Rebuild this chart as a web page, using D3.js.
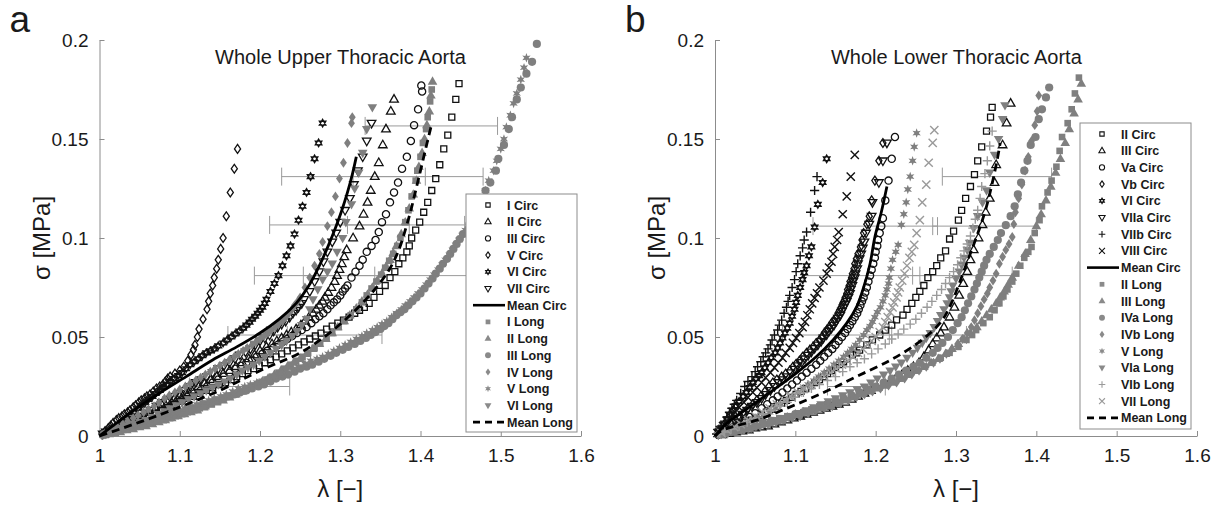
<!DOCTYPE html>
<html><head><meta charset="utf-8">
<script src="https://cdn.jsdelivr.net/npm/d3@7"></script>
<style>
body{margin:0;background:#fff;}
svg{display:block;font-family:"Liberation Sans",Arial,Helvetica,sans-serif;}
</style>
</head><body>
<svg id="chart" width="1222" height="506"></svg>
<script>
// ---------- axis ticks ----------
const lambdaTicks = [1, 1.1, 1.2, 1.3, 1.4, 1.5, 1.6];
const sigmaTicks = [0, 0.05, 0.1, 0.15, 0.2];
const sigmaTickLabels = ["0", "0.05", "0.1", "0.15", "0.2"];

// ---------- (a) whole upper thoracic aorta: [stretch λ, stress σ in MPa] ----------
const upICirc = [[1.006,0.001],[1.013,0.0025],[1.021,0.004],[1.029,0.005],[1.037,0.0065],[1.045,0.0075],[1.053,0.009],[1.061,0.010],[1.069,0.0115],[1.077,0.013],[1.085,0.0145],[1.093,0.016],[1.101,0.0175],[1.109,0.019],[1.117,0.020],[1.125,0.0215],[1.133,0.023],[1.141,0.0245],[1.149,0.026],[1.157,0.027],[1.164,0.0285],[1.171,0.030],[1.178,0.0315],[1.185,0.033],[1.192,0.034],[1.199,0.0355],[1.206,0.037],[1.213,0.0385],[1.22,0.040],[1.227,0.0415],[1.234,0.043],[1.241,0.0445],[1.248,0.046],[1.255,0.0475],[1.262,0.049],[1.269,0.0505],[1.276,0.052],[1.283,0.054],[1.29,0.0555],[1.297,0.057],[1.304,0.0585],[1.311,0.060],[1.318,0.062],[1.324,0.0635],[1.33,0.065],[1.336,0.067],[1.342,0.070],[1.349,0.073],[1.356,0.076],[1.362,0.080],[1.368,0.083],[1.373,0.087],[1.378,0.090],[1.383,0.093],[1.386,0.096],[1.389,0.100],[1.394,0.104],[1.399,0.108],[1.404,0.113],[1.409,0.118],[1.414,0.124],[1.419,0.130],[1.424,0.137],[1.429,0.145],[1.434,0.152],[1.439,0.161],[1.444,0.170],[1.448,0.178]];
const upIICirc = [[1.006,0.001],[1.014,0.0025],[1.022,0.004],[1.03,0.0055],[1.038,0.007],[1.046,0.0085],[1.054,0.010],[1.062,0.012],[1.07,0.014],[1.078,0.0155],[1.085,0.017],[1.093,0.0185],[1.1,0.020],[1.108,0.0215],[1.115,0.023],[1.123,0.025],[1.13,0.027],[1.138,0.0285],[1.146,0.030],[1.154,0.0315],[1.162,0.033],[1.17,0.035],[1.178,0.037],[1.186,0.039],[1.193,0.041],[1.2,0.043],[1.208,0.045],[1.215,0.0465],[1.221,0.048],[1.227,0.0495],[1.233,0.051],[1.239,0.0525],[1.245,0.054],[1.251,0.056],[1.256,0.058],[1.261,0.060],[1.266,0.062],[1.27,0.064],[1.274,0.066],[1.278,0.068],[1.281,0.070],[1.285,0.0725],[1.289,0.075],[1.293,0.078],[1.296,0.081],[1.299,0.084],[1.302,0.087],[1.305,0.0905],[1.308,0.094],[1.316,0.100],[1.324,0.106],[1.329,0.112],[1.334,0.118],[1.338,0.124],[1.343,0.131],[1.348,0.138],[1.353,0.147],[1.357,0.155],[1.363,0.164],[1.367,0.170]];
const upIIICirc = [[1.008,0.001],[1.015,0.002],[1.023,0.003],[1.031,0.004],[1.039,0.0055],[1.047,0.007],[1.055,0.008],[1.063,0.0095],[1.071,0.011],[1.079,0.013],[1.087,0.0145],[1.095,0.016],[1.103,0.018],[1.11,0.020],[1.118,0.0215],[1.126,0.023],[1.134,0.025],[1.141,0.027],[1.148,0.0285],[1.155,0.030],[1.162,0.032],[1.169,0.034],[1.176,0.0355],[1.183,0.037],[1.19,0.0385],[1.196,0.040],[1.203,0.0415],[1.209,0.043],[1.216,0.0445],[1.222,0.046],[1.228,0.0475],[1.234,0.049],[1.24,0.0505],[1.246,0.052],[1.252,0.0535],[1.258,0.055],[1.264,0.057],[1.269,0.059],[1.274,0.0605],[1.279,0.062],[1.284,0.064],[1.288,0.066],[1.292,0.0675],[1.296,0.069],[1.3,0.071],[1.303,0.073],[1.306,0.0745],[1.309,0.076],[1.314,0.080],[1.319,0.083],[1.324,0.086],[1.328,0.089],[1.333,0.093],[1.339,0.096],[1.344,0.099],[1.348,0.103],[1.352,0.108],[1.357,0.112],[1.362,0.118],[1.367,0.123],[1.372,0.128],[1.377,0.135],[1.383,0.141],[1.388,0.149],[1.392,0.157],[1.397,0.165],[1.402,0.174],[1.401,0.177]];
const upVCirc = [[1.003,0.001],[1.007,0.0025],[1.011,0.004],[1.014,0.0053],[1.017,0.0066],[1.021,0.008],[1.024,0.009],[1.028,0.010],[1.031,0.011],[1.035,0.012],[1.038,0.013],[1.042,0.0145],[1.045,0.0155],[1.049,0.017],[1.052,0.018],[1.056,0.019],[1.059,0.020],[1.063,0.021],[1.067,0.0225],[1.071,0.024],[1.075,0.025],[1.079,0.026],[1.082,0.0275],[1.085,0.029],[1.088,0.030],[1.094,0.0315],[1.1,0.033],[1.105,0.035],[1.11,0.038],[1.114,0.041],[1.117,0.0435],[1.119,0.046],[1.122,0.050],[1.124,0.054],[1.129,0.059],[1.134,0.064],[1.136,0.068],[1.138,0.072],[1.141,0.076],[1.143,0.080],[1.146,0.0845],[1.148,0.089],[1.151,0.0945],[1.154,0.100],[1.158,0.111],[1.163,0.123],[1.168,0.135],[1.172,0.145]];
const upVICirc = [[1.005,0.001],[1.009,0.002],[1.014,0.003],[1.019,0.004],[1.024,0.0055],[1.029,0.007],[1.034,0.009],[1.038,0.0105],[1.043,0.012],[1.048,0.014],[1.052,0.0155],[1.057,0.017],[1.061,0.0185],[1.066,0.020],[1.07,0.0215],[1.075,0.023],[1.079,0.0245],[1.084,0.026],[1.088,0.0275],[1.093,0.029],[1.098,0.0305],[1.103,0.032],[1.108,0.034],[1.113,0.036],[1.118,0.0375],[1.123,0.039],[1.128,0.0405],[1.133,0.042],[1.138,0.043],[1.143,0.044],[1.148,0.0455],[1.154,0.047],[1.159,0.0485],[1.164,0.050],[1.169,0.0515],[1.174,0.053],[1.179,0.0545],[1.183,0.056],[1.187,0.0575],[1.19,0.059],[1.194,0.0605],[1.197,0.062],[1.2,0.0635],[1.203,0.065],[1.206,0.067],[1.208,0.069],[1.213,0.073],[1.218,0.077],[1.223,0.081],[1.228,0.086],[1.233,0.091],[1.238,0.096],[1.243,0.102],[1.248,0.109],[1.253,0.116],[1.258,0.123],[1.263,0.131],[1.268,0.140],[1.273,0.148],[1.278,0.158]];
const upVIICirc = [[1.004,0.001],[1.008,0.002],[1.015,0.003],[1.022,0.004],[1.029,0.0055],[1.036,0.007],[1.043,0.0085],[1.05,0.010],[1.057,0.0115],[1.064,0.013],[1.071,0.015],[1.078,0.017],[1.085,0.0185],[1.092,0.020],[1.099,0.0215],[1.106,0.023],[1.113,0.025],[1.12,0.027],[1.127,0.0285],[1.134,0.030],[1.141,0.032],[1.148,0.034],[1.155,0.0355],[1.162,0.037],[1.169,0.039],[1.175,0.041],[1.182,0.0425],[1.188,0.044],[1.194,0.046],[1.2,0.048],[1.206,0.0495],[1.212,0.051],[1.217,0.053],[1.222,0.055],[1.227,0.0565],[1.232,0.058],[1.237,0.060],[1.241,0.062],[1.245,0.0635],[1.248,0.065],[1.252,0.067],[1.255,0.069],[1.262,0.073],[1.268,0.078],[1.274,0.083],[1.279,0.088],[1.284,0.093],[1.29,0.098],[1.295,0.1025],[1.3,0.108],[1.306,0.114],[1.312,0.120],[1.317,0.127],[1.322,0.134],[1.328,0.141],[1.333,0.149],[1.339,0.158]];
const upMeanCirc = [[1,0],[1.038,0.0116],[1.075,0.0217],[1.108,0.030],[1.141,0.0384],[1.171,0.045],[1.2,0.052],[1.224,0.0590],[1.245,0.067],[1.261,0.076],[1.274,0.086],[1.285,0.096],[1.294,0.105],[1.302,0.114],[1.309,0.123],[1.315,0.132],[1.32,0.141]];

const upILong = [[1.005,0.0005],[1.012,0.0015],[1.02,0.002],[1.028,0.003],[1.035,0.0035],[1.043,0.0045],[1.05,0.005],[1.058,0.006],[1.065,0.0065],[1.073,0.0075],[1.08,0.008],[1.088,0.009],[1.095,0.010],[1.103,0.011],[1.11,0.012],[1.118,0.013],[1.125,0.014],[1.133,0.015],[1.14,0.016],[1.148,0.0175],[1.155,0.019],[1.163,0.020],[1.17,0.021],[1.178,0.0225],[1.185,0.024],[1.193,0.0255],[1.2,0.027],[1.208,0.0285],[1.215,0.030],[1.223,0.032],[1.23,0.034],[1.238,0.036],[1.245,0.038],[1.253,0.040],[1.26,0.042],[1.268,0.0445],[1.275,0.047],[1.283,0.0495],[1.29,0.052],[1.298,0.055],[1.305,0.058],[1.313,0.061],[1.32,0.064],[1.327,0.0675],[1.333,0.071],[1.339,0.0745],[1.345,0.078],[1.351,0.0815],[1.356,0.085],[1.361,0.0885],[1.366,0.092],[1.371,0.096],[1.375,0.100],[1.381,0.108],[1.385,0.114],[1.389,0.121],[1.394,0.129],[1.396,0.134],[1.4,0.141],[1.403,0.148],[1.407,0.155],[1.409,0.161],[1.412,0.169],[1.414,0.175]];
const upIILong = [[1.006,0.0005],[1.012,0.001],[1.019,0.0015],[1.026,0.002],[1.034,0.003],[1.042,0.0035],[1.05,0.0045],[1.058,0.005],[1.066,0.006],[1.074,0.007],[1.082,0.008],[1.09,0.009],[1.098,0.010],[1.106,0.011],[1.114,0.012],[1.122,0.013],[1.13,0.0145],[1.138,0.016],[1.146,0.017],[1.154,0.018],[1.162,0.0195],[1.17,0.021],[1.178,0.0225],[1.186,0.024],[1.194,0.0255],[1.202,0.027],[1.21,0.029],[1.218,0.031],[1.226,0.033],[1.234,0.035],[1.242,0.037],[1.25,0.039],[1.258,0.0415],[1.266,0.044],[1.274,0.0465],[1.282,0.049],[1.29,0.052],[1.297,0.055],[1.305,0.058],[1.312,0.061],[1.32,0.0645],[1.327,0.068],[1.334,0.0715],[1.34,0.075],[1.346,0.0785],[1.352,0.082],[1.357,0.0855],[1.362,0.089],[1.366,0.0925],[1.37,0.096],[1.376,0.102],[1.381,0.108],[1.386,0.115],[1.391,0.122],[1.395,0.129],[1.398,0.136],[1.402,0.143],[1.405,0.150],[1.408,0.157],[1.411,0.164],[1.413,0.172],[1.415,0.179]];
const upIIILong = [[1.006,0.001],[1.012,0.0015],[1.019,0.002],[1.025,0.003],[1.033,0.0035],[1.04,0.0045],[1.048,0.005],[1.055,0.006],[1.063,0.007],[1.07,0.008],[1.078,0.009],[1.085,0.010],[1.093,0.011],[1.1,0.012],[1.108,0.013],[1.115,0.014],[1.123,0.015],[1.13,0.016],[1.138,0.017],[1.145,0.018],[1.153,0.019],[1.16,0.020],[1.168,0.021],[1.175,0.022],[1.183,0.023],[1.19,0.024],[1.198,0.025],[1.205,0.026],[1.213,0.0275],[1.22,0.029],[1.228,0.030],[1.235,0.031],[1.243,0.0325],[1.25,0.034],[1.258,0.035],[1.265,0.036],[1.273,0.0375],[1.28,0.039],[1.288,0.0405],[1.295,0.042],[1.303,0.0435],[1.31,0.045],[1.318,0.0465],[1.325,0.048],[1.332,0.0495],[1.338,0.051],[1.344,0.0525],[1.35,0.054],[1.355,0.0555],[1.36,0.057],[1.365,0.059],[1.37,0.061],[1.375,0.0625],[1.38,0.064],[1.385,0.066],[1.39,0.068],[1.395,0.070],[1.4,0.072],[1.405,0.0745],[1.41,0.077],[1.415,0.0795],[1.419,0.082],[1.424,0.0845],[1.428,0.087],[1.433,0.0895],[1.437,0.092],[1.441,0.0945],[1.445,0.097],[1.449,0.0995],[1.453,0.102],[1.461,0.107],[1.468,0.112],[1.475,0.118],[1.481,0.124],[1.487,0.128],[1.494,0.134],[1.497,0.140],[1.504,0.147],[1.51,0.155],[1.514,0.161],[1.52,0.170],[1.525,0.176],[1.532,0.183],[1.539,0.189],[1.545,0.198]];
const upIVLong = [[1.003,0.0005],[1.006,0.001],[1.011,0.002],[1.016,0.003],[1.022,0.0045],[1.029,0.006],[1.035,0.0075],[1.042,0.009],[1.048,0.0105],[1.055,0.012],[1.061,0.0135],[1.068,0.015],[1.074,0.017],[1.081,0.019],[1.087,0.0205],[1.094,0.022],[1.1,0.0235],[1.107,0.025],[1.113,0.0265],[1.12,0.028],[1.126,0.0295],[1.132,0.031],[1.138,0.0325],[1.144,0.034],[1.15,0.0355],[1.156,0.037],[1.162,0.0385],[1.168,0.040],[1.173,0.0415],[1.179,0.043],[1.184,0.0445],[1.19,0.046],[1.195,0.0475],[1.2,0.049],[1.205,0.0505],[1.21,0.052],[1.214,0.0535],[1.219,0.055],[1.223,0.0565],[1.228,0.058],[1.232,0.060],[1.236,0.062],[1.24,0.064],[1.243,0.066],[1.247,0.068],[1.25,0.070],[1.256,0.075],[1.262,0.080],[1.268,0.086],[1.274,0.092],[1.278,0.098],[1.284,0.106],[1.289,0.113],[1.294,0.121],[1.299,0.130],[1.304,0.138],[1.309,0.148],[1.314,0.158],[1.315,0.161]];
const upVLong = [[1.005,0.0005],[1.011,0.0015],[1.018,0.002],[1.024,0.003],[1.031,0.004],[1.038,0.005],[1.046,0.006],[1.053,0.007],[1.061,0.008],[1.068,0.009],[1.076,0.010],[1.083,0.011],[1.091,0.012],[1.098,0.013],[1.106,0.014],[1.113,0.015],[1.121,0.016],[1.128,0.017],[1.136,0.018],[1.143,0.019],[1.151,0.020],[1.158,0.021],[1.166,0.0225],[1.173,0.024],[1.181,0.025],[1.188,0.026],[1.196,0.027],[1.203,0.028],[1.211,0.029],[1.218,0.030],[1.226,0.0315],[1.233,0.033],[1.241,0.034],[1.248,0.035],[1.256,0.0365],[1.263,0.038],[1.271,0.039],[1.278,0.040],[1.285,0.0415],[1.292,0.043],[1.299,0.0445],[1.306,0.046],[1.313,0.0475],[1.32,0.049],[1.327,0.0505],[1.333,0.052],[1.34,0.0535],[1.346,0.055],[1.352,0.0565],[1.358,0.058],[1.364,0.060],[1.37,0.062],[1.376,0.064],[1.381,0.066],[1.387,0.068],[1.392,0.070],[1.397,0.072],[1.402,0.074],[1.407,0.0765],[1.412,0.079],[1.417,0.0815],[1.422,0.084],[1.427,0.0865],[1.431,0.089],[1.436,0.0915],[1.44,0.094],[1.444,0.0965],[1.448,0.099],[1.452,0.1015],[1.456,0.104],[1.463,0.109],[1.47,0.114],[1.476,0.119],[1.481,0.124],[1.485,0.129],[1.491,0.134],[1.495,0.139],[1.5,0.145],[1.504,0.150],[1.507,0.156],[1.512,0.162],[1.516,0.168],[1.52,0.173],[1.525,0.180],[1.529,0.186],[1.532,0.191]];
const upVILong = [[1.007,0.001],[1.014,0.002],[1.021,0.003],[1.028,0.004],[1.036,0.005],[1.043,0.006],[1.051,0.007],[1.058,0.008],[1.066,0.0095],[1.073,0.011],[1.081,0.0125],[1.088,0.014],[1.096,0.0155],[1.103,0.017],[1.111,0.0185],[1.118,0.020],[1.126,0.0215],[1.133,0.023],[1.141,0.0245],[1.148,0.026],[1.156,0.0275],[1.163,0.029],[1.171,0.031],[1.178,0.033],[1.185,0.0345],[1.192,0.036],[1.199,0.038],[1.206,0.040],[1.213,0.042],[1.22,0.044],[1.227,0.046],[1.233,0.048],[1.24,0.0505],[1.246,0.053],[1.252,0.056],[1.258,0.059],[1.262,0.064],[1.266,0.069],[1.272,0.074],[1.278,0.079],[1.284,0.083],[1.29,0.087],[1.296,0.093],[1.303,0.100],[1.307,0.108],[1.314,0.117],[1.318,0.125],[1.323,0.133],[1.328,0.143],[1.333,0.155],[1.34,0.166]];
const upMeanLong = [[1,0],[1.05,0.007],[1.1,0.0146],[1.15,0.023],[1.2,0.033],[1.25,0.042],[1.28,0.050],[1.307,0.059],[1.332,0.069],[1.347,0.076],[1.361,0.084],[1.372,0.093],[1.381,0.104],[1.388,0.114],[1.394,0.124],[1.4,0.134],[1.407,0.146],[1.413,0.156]];
// horizontal error bars: [σ, λ low, λ high]
const upErrorBars = [[0.1566,1.331,1.496],[0.131,1.227,1.406],[0.131,1.316,1.478],[0.1066,1.212,1.386],[0.1066,1.309,1.455],[0.081,1.193,1.343],[0.081,1.254,1.46],[0.051,1.160,1.234],[0.051,1.208,1.352],[0.025,1.112,1.237]];

// ---------- (b) whole lower thoracic aorta ----------
const lowIICirc = [[1.006,0.001],[1.012,0.002],[1.019,0.003],[1.025,0.004],[1.032,0.0055],[1.038,0.007],[1.045,0.008],[1.051,0.009],[1.058,0.0105],[1.064,0.012],[1.071,0.0135],[1.077,0.015],[1.083,0.0165],[1.089,0.018],[1.095,0.0195],[1.101,0.021],[1.107,0.0225],[1.113,0.024],[1.119,0.0255],[1.124,0.027],[1.13,0.0285],[1.135,0.030],[1.14,0.0315],[1.145,0.033],[1.15,0.0345],[1.155,0.036],[1.16,0.0375],[1.164,0.039],[1.171,0.041],[1.176,0.042],[1.18,0.0434],[1.189,0.046],[1.196,0.0485],[1.205,0.051],[1.212,0.0535],[1.22,0.056],[1.226,0.0586],[1.234,0.061],[1.239,0.064],[1.245,0.067],[1.25,0.070],[1.255,0.073],[1.26,0.076],[1.265,0.080],[1.271,0.083],[1.276,0.086],[1.281,0.090],[1.287,0.0935],[1.292,0.0995],[1.297,0.1035],[1.303,0.109],[1.307,0.114],[1.312,0.120],[1.318,0.126],[1.323,0.132],[1.327,0.139],[1.332,0.146],[1.338,0.154],[1.343,0.161],[1.345,0.166]];
const lowIIICirc = [[1.009,0.0006],[1.018,0.0012],[1.026,0.002],[1.034,0.0025],[1.042,0.003],[1.05,0.004],[1.058,0.0045],[1.066,0.005],[1.074,0.006],[1.082,0.007],[1.09,0.008],[1.098,0.009],[1.106,0.010],[1.114,0.011],[1.122,0.012],[1.13,0.013],[1.138,0.014],[1.146,0.015],[1.154,0.016],[1.162,0.017],[1.17,0.0185],[1.178,0.020],[1.186,0.0215],[1.194,0.023],[1.202,0.0245],[1.21,0.026],[1.218,0.0275],[1.225,0.029],[1.233,0.031],[1.24,0.033],[1.247,0.035],[1.254,0.037],[1.26,0.040],[1.266,0.0434],[1.271,0.0465],[1.276,0.0495],[1.281,0.052],[1.285,0.055],[1.292,0.060],[1.298,0.065],[1.304,0.071],[1.309,0.077],[1.314,0.083],[1.318,0.089],[1.322,0.094],[1.328,0.100],[1.333,0.1066],[1.337,0.113],[1.342,0.120],[1.348,0.128],[1.35,0.137],[1.358,0.147],[1.363,0.158],[1.368,0.168]];
const lowVaCirc = [[1.004,0.0006],[1.008,0.0012],[1.013,0.002],[1.019,0.003],[1.025,0.0045],[1.031,0.006],[1.037,0.0078],[1.043,0.0096],[1.05,0.0115],[1.058,0.014],[1.065,0.016],[1.072,0.018],[1.078,0.020],[1.084,0.022],[1.09,0.024],[1.096,0.026],[1.102,0.028],[1.108,0.030],[1.114,0.032],[1.12,0.034],[1.126,0.036],[1.131,0.038],[1.136,0.040],[1.141,0.042],[1.146,0.044],[1.15,0.046],[1.154,0.048],[1.158,0.050],[1.162,0.052],[1.165,0.054],[1.168,0.056],[1.171,0.058],[1.174,0.060],[1.177,0.062],[1.179,0.064],[1.181,0.066],[1.183,0.068],[1.185,0.070],[1.187,0.0725],[1.189,0.075],[1.191,0.078],[1.193,0.081],[1.195,0.084],[1.197,0.087],[1.199,0.090],[1.2,0.093],[1.202,0.096],[1.203,0.099],[1.205,0.1025],[1.207,0.106],[1.209,0.110],[1.212,0.119],[1.216,0.129],[1.22,0.140],[1.224,0.151]];
const lowVbCirc = [[1.004,0.001],[1.009,0.0025],[1.014,0.004],[1.02,0.006],[1.025,0.008],[1.031,0.0096],[1.036,0.012],[1.041,0.014],[1.047,0.016],[1.052,0.018],[1.057,0.020],[1.062,0.0225],[1.067,0.025],[1.072,0.027],[1.077,0.0285],[1.083,0.030],[1.088,0.0315],[1.093,0.033],[1.097,0.035],[1.101,0.0365],[1.105,0.038],[1.109,0.040],[1.114,0.042],[1.118,0.0435],[1.122,0.045],[1.126,0.047],[1.13,0.0485],[1.133,0.050],[1.136,0.052],[1.139,0.0535],[1.142,0.055],[1.145,0.057],[1.148,0.0585],[1.151,0.060],[1.153,0.062],[1.155,0.0635],[1.157,0.065],[1.159,0.067],[1.161,0.0685],[1.162,0.070],[1.164,0.072],[1.165,0.074],[1.167,0.076],[1.168,0.078],[1.17,0.080],[1.171,0.082],[1.173,0.0845],[1.174,0.087],[1.176,0.0895],[1.178,0.092],[1.181,0.0955],[1.183,0.099],[1.185,0.1025],[1.189,0.107],[1.192,0.111],[1.195,0.119],[1.199,0.129],[1.204,0.139],[1.209,0.148]];
const lowVICirc = [[1.004,0.002],[1.008,0.004],[1.011,0.006],[1.015,0.0085],[1.018,0.0107],[1.022,0.013],[1.026,0.0153],[1.03,0.0175],[1.035,0.020],[1.039,0.022],[1.043,0.0245],[1.047,0.027],[1.051,0.029],[1.055,0.0305],[1.058,0.032],[1.062,0.0345],[1.066,0.037],[1.07,0.0395],[1.075,0.042],[1.078,0.0445],[1.081,0.047],[1.084,0.0495],[1.087,0.052],[1.09,0.0545],[1.093,0.057],[1.096,0.0605],[1.099,0.064],[1.101,0.0675],[1.103,0.071],[1.106,0.075],[1.109,0.079],[1.111,0.0825],[1.114,0.086],[1.117,0.091],[1.12,0.0955],[1.124,0.1055],[1.128,0.117],[1.134,0.128],[1.139,0.140]];
const lowVIIaCirc = [[1.005,0.0015],[1.01,0.003],[1.016,0.005],[1.022,0.007],[1.028,0.009],[1.034,0.011],[1.04,0.013],[1.046,0.015],[1.052,0.017],[1.058,0.019],[1.063,0.021],[1.069,0.023],[1.074,0.025],[1.079,0.027],[1.084,0.0285],[1.089,0.030],[1.094,0.032],[1.099,0.0338],[1.103,0.0355],[1.108,0.0372],[1.112,0.039],[1.116,0.0408],[1.12,0.0425],[1.124,0.0443],[1.128,0.046],[1.132,0.0478],[1.135,0.0495],[1.139,0.0512],[1.142,0.053],[1.145,0.0545],[1.148,0.056],[1.151,0.058],[1.153,0.0595],[1.156,0.061],[1.158,0.063],[1.16,0.0648],[1.162,0.0665],[1.164,0.068],[1.166,0.070],[1.168,0.072],[1.169,0.074],[1.171,0.076],[1.172,0.078],[1.174,0.080],[1.175,0.082],[1.177,0.0845],[1.178,0.087],[1.18,0.0895],[1.182,0.092],[1.184,0.095],[1.186,0.098],[1.188,0.1025],[1.192,0.107],[1.195,0.111],[1.196,0.118],[1.204,0.128],[1.209,0.139],[1.214,0.148]];
const lowVIIbCirc = [[1.002,0.001],[1.005,0.0035],[1.008,0.005],[1.012,0.0075],[1.015,0.0096],[1.018,0.012],[1.021,0.014],[1.024,0.016],[1.027,0.018],[1.032,0.0215],[1.037,0.025],[1.041,0.0275],[1.046,0.030],[1.05,0.0325],[1.053,0.035],[1.057,0.0375],[1.06,0.040],[1.063,0.042],[1.066,0.044],[1.069,0.046],[1.071,0.0485],[1.074,0.051],[1.078,0.0535],[1.08,0.056],[1.083,0.0585],[1.086,0.062],[1.089,0.065],[1.091,0.068],[1.093,0.071],[1.096,0.075],[1.099,0.079],[1.101,0.083],[1.103,0.087],[1.106,0.091],[1.109,0.095],[1.111,0.099],[1.114,0.103],[1.119,0.113],[1.124,0.124],[1.127,0.131]];
const lowVIIICirc = [[1.003,0.0015],[1.006,0.003],[1.01,0.005],[1.015,0.0075],[1.02,0.0095],[1.025,0.012],[1.03,0.0145],[1.036,0.017],[1.041,0.0195],[1.047,0.022],[1.052,0.0245],[1.058,0.027],[1.063,0.0295],[1.069,0.032],[1.074,0.0345],[1.079,0.037],[1.084,0.0395],[1.088,0.042],[1.093,0.0445],[1.097,0.047],[1.101,0.0495],[1.105,0.052],[1.109,0.055],[1.112,0.0576],[1.115,0.061],[1.118,0.064],[1.121,0.067],[1.124,0.0697],[1.127,0.072],[1.13,0.075],[1.135,0.0785],[1.139,0.082],[1.142,0.085],[1.145,0.088],[1.147,0.092],[1.149,0.0955],[1.152,0.099],[1.154,0.103],[1.159,0.112],[1.164,0.121],[1.169,0.131],[1.174,0.142]];
const lowMeanCirc = [[1,0],[1.015,0.0066],[1.043,0.0146],[1.072,0.023],[1.102,0.032],[1.126,0.040],[1.147,0.0485],[1.164,0.057],[1.176,0.065],[1.185,0.075],[1.193,0.087],[1.199,0.1005],[1.207,0.113],[1.214,0.126]];

const lowIILong = [[1.006,0.0008],[1.012,0.0015],[1.02,0.0025],[1.03,0.004],[1.04,0.005],[1.05,0.006],[1.06,0.007],[1.07,0.008],[1.08,0.009],[1.09,0.010],[1.1,0.011],[1.11,0.012],[1.12,0.0135],[1.13,0.015],[1.14,0.016],[1.15,0.017],[1.16,0.0185],[1.17,0.020],[1.18,0.0215],[1.19,0.023],[1.2,0.0245],[1.21,0.026],[1.22,0.0275],[1.23,0.029],[1.24,0.031],[1.25,0.033],[1.26,0.035],[1.27,0.037],[1.281,0.0395],[1.292,0.042],[1.303,0.045],[1.313,0.0485],[1.32,0.051],[1.325,0.0535],[1.334,0.057],[1.342,0.060],[1.348,0.0635],[1.354,0.067],[1.359,0.0705],[1.364,0.074],[1.37,0.078],[1.375,0.082],[1.38,0.086],[1.385,0.090],[1.39,0.093],[1.394,0.0955],[1.398,0.1025],[1.404,0.109],[1.407,0.116],[1.414,0.123],[1.419,0.129],[1.425,0.136],[1.429,0.144],[1.432,0.151],[1.439,0.158],[1.444,0.165],[1.448,0.173],[1.453,0.181]];
const lowIIILong = [[1.01,0.001],[1.02,0.002],[1.03,0.003],[1.04,0.004],[1.05,0.005],[1.06,0.006],[1.07,0.007],[1.08,0.008],[1.09,0.0095],[1.1,0.011],[1.11,0.012],[1.12,0.013],[1.13,0.014],[1.14,0.015],[1.15,0.0165],[1.16,0.018],[1.17,0.0195],[1.18,0.021],[1.19,0.0225],[1.2,0.024],[1.21,0.0255],[1.22,0.027],[1.23,0.029],[1.24,0.031],[1.25,0.033],[1.26,0.035],[1.269,0.037],[1.278,0.039],[1.287,0.0415],[1.295,0.044],[1.303,0.0465],[1.31,0.049],[1.318,0.052],[1.326,0.055],[1.332,0.058],[1.338,0.061],[1.344,0.064],[1.35,0.067],[1.355,0.070],[1.36,0.073],[1.365,0.0765],[1.37,0.080],[1.378,0.086],[1.386,0.092],[1.393,0.099],[1.4,0.106],[1.406,0.112],[1.412,0.119],[1.418,0.126],[1.424,0.133],[1.43,0.140],[1.436,0.148],[1.441,0.155],[1.447,0.163],[1.452,0.170],[1.456,0.178]];
const lowIVaLong = [[1.01,0.001],[1.02,0.002],[1.03,0.003],[1.04,0.004],[1.05,0.005],[1.06,0.006],[1.07,0.007],[1.08,0.008],[1.09,0.0095],[1.1,0.011],[1.11,0.012],[1.12,0.013],[1.13,0.0145],[1.14,0.016],[1.15,0.0175],[1.16,0.019],[1.17,0.0205],[1.18,0.022],[1.19,0.0235],[1.2,0.025],[1.21,0.027],[1.22,0.029],[1.229,0.031],[1.238,0.033],[1.247,0.035],[1.255,0.037],[1.263,0.0395],[1.271,0.042],[1.277,0.0445],[1.283,0.047],[1.29,0.050],[1.296,0.0535],[1.302,0.057],[1.307,0.060],[1.311,0.0635],[1.315,0.067],[1.319,0.0705],[1.323,0.074],[1.326,0.077],[1.329,0.080],[1.332,0.083],[1.335,0.086],[1.338,0.089],[1.342,0.092],[1.347,0.0955],[1.352,0.099],[1.356,0.1025],[1.362,0.1065],[1.368,0.111],[1.373,0.116],[1.377,0.122],[1.381,0.128],[1.385,0.134],[1.389,0.139],[1.393,0.147],[1.399,0.151],[1.403,0.160],[1.407,0.165],[1.412,0.171],[1.416,0.176]];
const lowIVbLong = [[1.013,0.001],[1.026,0.002],[1.036,0.003],[1.046,0.004],[1.056,0.005],[1.066,0.006],[1.076,0.007],[1.086,0.008],[1.096,0.009],[1.106,0.010],[1.116,0.0115],[1.126,0.013],[1.136,0.014],[1.146,0.015],[1.156,0.0165],[1.166,0.018],[1.176,0.0195],[1.186,0.021],[1.196,0.0225],[1.206,0.024],[1.216,0.0255],[1.226,0.027],[1.236,0.029],[1.245,0.031],[1.254,0.033],[1.263,0.035],[1.272,0.037],[1.28,0.039],[1.288,0.0415],[1.295,0.044],[1.302,0.0465],[1.308,0.049],[1.314,0.052],[1.319,0.055],[1.323,0.0585],[1.327,0.062],[1.331,0.0655],[1.335,0.069],[1.339,0.072],[1.342,0.075],[1.346,0.0785],[1.35,0.082],[1.354,0.087],[1.358,0.0905],[1.362,0.094],[1.366,0.097],[1.37,0.1005],[1.372,0.107],[1.374,0.113],[1.378,0.120],[1.382,0.127],[1.386,0.134],[1.39,0.141],[1.394,0.149],[1.398,0.157],[1.401,0.164],[1.403,0.172]];
const lowVLong = [[1.004,0.0005],[1.008,0.001],[1.015,0.002],[1.022,0.003],[1.03,0.0045],[1.038,0.006],[1.045,0.0075],[1.053,0.009],[1.06,0.0105],[1.068,0.012],[1.075,0.014],[1.082,0.016],[1.089,0.018],[1.096,0.020],[1.103,0.022],[1.11,0.024],[1.116,0.026],[1.123,0.028],[1.129,0.030],[1.136,0.032],[1.142,0.034],[1.148,0.036],[1.154,0.038],[1.16,0.040],[1.165,0.042],[1.17,0.044],[1.175,0.046],[1.18,0.0485],[1.185,0.051],[1.189,0.0535],[1.193,0.0555],[1.196,0.0576],[1.199,0.060],[1.202,0.0626],[1.206,0.065],[1.209,0.068],[1.212,0.071],[1.214,0.074],[1.216,0.077],[1.217,0.080],[1.219,0.0845],[1.221,0.089],[1.225,0.093],[1.228,0.0965],[1.232,0.1066],[1.235,0.112],[1.238,0.118],[1.24,0.1245],[1.243,0.131],[1.246,0.139],[1.248,0.146],[1.251,0.153]];
const lowVIaLong = [[1.004,0.0005],[1.008,0.001],[1.016,0.0015],[1.024,0.002],[1.033,0.003],[1.042,0.004],[1.051,0.005],[1.06,0.006],[1.069,0.007],[1.078,0.008],[1.087,0.009],[1.096,0.010],[1.105,0.0115],[1.114,0.013],[1.123,0.0145],[1.132,0.016],[1.141,0.0175],[1.15,0.019],[1.159,0.0205],[1.168,0.022],[1.177,0.0235],[1.186,0.025],[1.194,0.027],[1.202,0.029],[1.21,0.031],[1.218,0.033],[1.225,0.035],[1.232,0.037],[1.239,0.0395],[1.246,0.042],[1.252,0.0445],[1.258,0.047],[1.263,0.0495],[1.268,0.052],[1.273,0.055],[1.277,0.058],[1.281,0.061],[1.285,0.064],[1.289,0.067],[1.292,0.070],[1.294,0.073],[1.296,0.076],[1.3,0.0795],[1.304,0.083],[1.307,0.0865],[1.31,0.090],[1.314,0.094],[1.317,0.0975],[1.322,0.105],[1.327,0.111],[1.333,0.118],[1.338,0.124],[1.342,0.133],[1.348,0.142],[1.353,0.150],[1.358,0.160],[1.361,0.167]];
const lowVIbLong = [[1.006,0.001],[1.012,0.002],[1.02,0.0035],[1.03,0.005],[1.04,0.007],[1.05,0.009],[1.06,0.011],[1.07,0.013],[1.08,0.015],[1.09,0.017],[1.1,0.0195],[1.11,0.022],[1.12,0.024],[1.13,0.026],[1.14,0.028],[1.15,0.030],[1.159,0.0325],[1.168,0.035],[1.177,0.037],[1.186,0.039],[1.195,0.0415],[1.203,0.044],[1.212,0.0465],[1.22,0.049],[1.228,0.0515],[1.235,0.054],[1.243,0.0565],[1.25,0.059],[1.257,0.062],[1.264,0.065],[1.27,0.068],[1.276,0.071],[1.282,0.074],[1.287,0.077],[1.292,0.080],[1.297,0.083],[1.302,0.0865],[1.306,0.090],[1.31,0.0935],[1.314,0.097],[1.318,0.101],[1.321,0.105],[1.324,0.1095],[1.327,0.114],[1.33,0.120],[1.332,0.126],[1.336,0.1325],[1.339,0.139],[1.342,0.1465],[1.345,0.154]];
const lowVIILong = [[1.008,0.0015],[1.015,0.003],[1.024,0.0045],[1.032,0.006],[1.041,0.008],[1.05,0.010],[1.059,0.012],[1.068,0.014],[1.077,0.016],[1.086,0.018],[1.094,0.020],[1.103,0.022],[1.111,0.024],[1.12,0.026],[1.128,0.028],[1.136,0.030],[1.144,0.032],[1.151,0.034],[1.158,0.036],[1.165,0.038],[1.172,0.040],[1.178,0.042],[1.184,0.044],[1.19,0.046],[1.195,0.048],[1.2,0.050],[1.205,0.0525],[1.209,0.055],[1.212,0.0575],[1.215,0.060],[1.218,0.0625],[1.221,0.065],[1.223,0.0675],[1.226,0.070],[1.228,0.0725],[1.23,0.075],[1.233,0.0785],[1.236,0.082],[1.239,0.086],[1.242,0.090],[1.245,0.093],[1.248,0.0965],[1.251,0.1025],[1.255,0.109],[1.258,0.118],[1.263,0.127],[1.266,0.138],[1.271,0.148],[1.273,0.1545]];
const lowMeanLong = [[1,0],[1.01,0.003],[1.052,0.008],[1.093,0.0146],[1.134,0.0217],[1.176,0.030],[1.217,0.038],[1.259,0.049],[1.28,0.057],[1.293,0.066],[1.304,0.077],[1.314,0.088],[1.325,0.100],[1.332,0.108],[1.338,0.116],[1.343,0.124],[1.348,0.133],[1.352,0.141],[1.355,0.148]];
const lowErrorBars = [[0.131,1.283,1.419],[0.106,1.122,1.277],[0.106,1.271,1.4],[0.081,1.11,1.255],[0.081,1.246,1.37],[0.051,1.084,1.22],[0.051,1.217,1.313],[0.025,1.14,1.212]];

// ---------- styling ----------
const GREY = "#7f7f7f";
const LIGHT = "#9a9a9a";
const INK = "#111";
const AXIS = "#8c8c8c";

// marker outline generators (centred on 0,0)
function shapePath(shape, r) {
  const pts = (arr) => "M" + arr.map(p => p[0].toFixed(2) + "," + p[1].toFixed(2)).join("L") + "Z";
  const ring = (n, rad, off) => d3.range(n).map(i => {
    const a = off + i * 2 * Math.PI / n;
    return [rad * Math.cos(a), rad * Math.sin(a)];
  });
  switch (shape) {
    case "square": return `M${-r},${-r}h${2*r}v${2*r}h${-2*r}Z`;
    case "triUp": return pts([[0,-r*1.1],[r,r*0.65],[-r,r*0.65]]);
    case "triDown": return pts([[0,r*1.1],[r,-r*0.65],[-r,-r*0.65]]);
    case "circle": return `M${r},0A${r},${r} 0 1,1 ${-r},0A${r},${r} 0 1,1 ${r},0Z`;
    case "diamond": return pts([[0,-r*1.3],[r*0.9,0],[0,r*1.3],[-r*0.9,0]]);
    case "hexagram": return pts(ring(3, r, -Math.PI/2)) + pts(ring(3, r, Math.PI/2));
    case "plus": return `M${-r},0H${r}M0,${-r}V${r}`;
    case "cross": return `M${-r},${-r}L${r},${r}M${-r},${r}L${r},${-r}`;
    case "asterisk": {
      const a = [];
      for (let i = 0; i < 12; i++) {
        const rad = i % 2 === 0 ? r : r * 0.45;
        const ang = -Math.PI/2 + i * Math.PI / 6;
        a.push([rad * Math.cos(ang), rad * Math.sin(ang)]);
      }
      return pts(a);
    }
  }
}

// open black markers for circumferential, filled grey for longitudinal
const openStyle = (shape, r) => ({shape, r, fill: "none", stroke: INK, sw: 1.3});
const fillStyle = (shape, r) => ({shape, r, fill: GREY, stroke: "none", sw: 0});
const lineStyle = (shape, r, col) => ({shape, r, fill: "none", stroke: col, sw: 1.4});

const panels = [
  {
    letter: "a",
    title: "Whole Upper Thoracic Aorta",
    xRange: [99.5, 581],
    legendBox: {x: 466, y: 194, w: 111, h: 238, symX: 488, textX: 507, firstY: 205},
    errorBars: upErrorBars,
    series: [
      {label: "I Circ", data: upICirc, st: openStyle("square", 3.0)},
      {label: "II Circ", data: upIICirc, st: openStyle("triUp", 4.3)},
      {label: "III Circ", data: upIIICirc, st: openStyle("circle", 3.6)},
      {label: "V Circ", data: upVCirc, st: openStyle("diamond", 3.4)},
      {label: "VI Circ", data: upVICirc, st: openStyle("hexagram", 3.8)},
      {label: "VII Circ", data: upVIICirc, st: openStyle("triDown", 4.3)},
      {label: "Mean Circ", data: upMeanCirc, line: "solid"},
      {label: "I Long", data: upILong, st: fillStyle("square", 3.3)},
      {label: "II Long", data: upIILong, st: fillStyle("triUp", 4.8)},
      {label: "III Long", data: upIIILong, st: fillStyle("circle", 4.1)},
      {label: "IV Long", data: upIVLong, st: fillStyle("diamond", 3.8)},
      {label: "V Long", data: upVLong, st: fillStyle("asterisk", 4.8)},
      {label: "VI Long", data: upVILong, st: fillStyle("triDown", 4.8)},
      {label: "Mean Long", data: upMeanLong, line: "dash"}
    ]
  },
  {
    letter: "b",
    title: "Whole Lower Thoracic Aorta",
    xRange: [715, 1197],
    legendBox: {x: 1080, y: 123, w: 111, h: 306, symX: 1102, textX: 1121, firstY: 134},
    errorBars: lowErrorBars,
    series: [
      {label: "II Circ", data: lowIICirc, st: openStyle("square", 3.0)},
      {label: "III Circ", data: lowIIICirc, st: openStyle("triUp", 4.3)},
      {label: "Va Circ", data: lowVaCirc, st: openStyle("circle", 3.6)},
      {label: "Vb Circ", data: lowVbCirc, st: openStyle("diamond", 3.4)},
      {label: "VI Circ", data: lowVICirc, st: openStyle("hexagram", 3.8)},
      {label: "VIIa Circ", data: lowVIIaCirc, st: openStyle("triDown", 4.3)},
      {label: "VIIb Circ", data: lowVIIbCirc, st: lineStyle("plus", 4.6, INK)},
      {label: "VIII Circ", data: lowVIIICirc, st: lineStyle("cross", 4.1, INK)},
      {label: "Mean Circ", data: lowMeanCirc, line: "solid"},
      {label: "II Long", data: lowIILong, st: fillStyle("square", 3.3)},
      {label: "III Long", data: lowIIILong, st: fillStyle("triUp", 4.8)},
      {label: "IVa Long", data: lowIVaLong, st: fillStyle("circle", 4.1)},
      {label: "IVb Long", data: lowIVbLong, st: fillStyle("diamond", 3.8)},
      {label: "V Long", data: lowVLong, st: fillStyle("asterisk", 4.8)},
      {label: "VIa Long", data: lowVIaLong, st: fillStyle("triDown", 4.8)},
      {label: "VIb Long", data: lowVIbLong, st: lineStyle("plus", 4.6, LIGHT)},
      {label: "VII Long", data: lowVIILong, st: lineStyle("cross", 4.1, LIGHT)},
      {label: "Mean Long", data: lowMeanLong, line: "dash"}
    ]
  }
];

const svg = d3.select("#chart");
const yScale = d3.scaleLinear().domain([0, 0.2]).range([436, 40]);

panels.forEach(p => {
  const x = d3.scaleLinear().domain([1, 1.6]).range(p.xRange);
  const g = svg.append("g");
  const x0 = p.xRange[0];

  // axes with inward ticks
  const xAxis = d3.axisBottom(x).tickValues(lambdaTicks).tickFormat(d3.format("")).tickSizeInner(-5).tickSizeOuter(0).tickPadding(13);
  const yAxis = d3.axisLeft(yScale).tickValues(sigmaTicks).tickFormat((d, i) => sigmaTickLabels[i]).tickSizeInner(-5).tickSizeOuter(0).tickPadding(11);
  const gx = g.append("g").attr("transform", `translate(0,${yScale(0)})`).call(xAxis);
  const gy = g.append("g").attr("transform", `translate(${x0},0)`).call(yAxis);
  [gx, gy].forEach(a => {
    a.select(".domain").attr("stroke", AXIS).attr("stroke-width", 1);
    a.selectAll(".tick line").attr("stroke", AXIS);
    a.selectAll(".tick text").attr("fill", "#1a1a1a").style("font-size", "19px");
  });

  // axis titles, panel letter, panel title
  g.append("text").attr("x", (p.xRange[0] + p.xRange[1]) / 2).attr("y", 497)
    .attr("text-anchor", "middle").style("font-size", "24px").attr("fill", "#1a1a1a").text("λ [−]");
  g.append("text").attr("transform", `translate(${x0 - 50},238) rotate(-90)`)
    .attr("text-anchor", "middle").style("font-size", "24px").attr("fill", "#1a1a1a").text("σ [MPa]");
  g.append("text").attr("x", x0 - 90).attr("y", 32).style("font-size", "37px").attr("fill", "#1a1a1a").text(p.letter);
  g.append("text").attr("x", x(1.4) - 80).attr("y", 64).attr("text-anchor", "middle")
    .style("font-size", "20px").attr("fill", "#1a1a1a").text(p.title);

  // error bars
  const eb = g.append("g").attr("stroke", "#9a9a9a").attr("stroke-width", 1).attr("fill", "none");
  p.errorBars.forEach(([s, lo, hi]) => {
    const yy = yScale(s);
    eb.append("path").attr("d", `M${x(lo)},${yy}H${x(hi)}M${x(lo)},${yy - 9}V${yy + 9}M${x(hi)},${yy - 9}V${yy + 9}`);
  });

  // marker series
  p.series.filter(s => !s.line).forEach(s => {
    const st = s.st;
    const d = shapePath(st.shape, st.r);
    g.append("g").selectAll("path").data(s.data).join("path")
      .attr("transform", v => `translate(${x(v[0])},${yScale(v[1])})`)
      .attr("d", d).attr("fill", st.fill).attr("stroke", st.stroke).attr("stroke-width", st.sw);
  });

  // mean curves
  const lineGen = d3.line().x(v => x(v[0])).y(v => yScale(v[1])).curve(d3.curveMonotoneY);
  p.series.filter(s => s.line).forEach(s => {
    g.append("path").attr("d", lineGen(s.data)).attr("fill", "none").attr("stroke", "#000")
      .attr("stroke-width", 2.8).attr("stroke-dasharray", s.line === "dash" ? "8,5" : null);
  });

  // legend
  const L = p.legendBox;
  const lg = g.append("g");
  lg.append("rect").attr("x", L.x).attr("y", L.y).attr("width", L.w).attr("height", L.h)
    .attr("fill", "#fff").attr("stroke", "#8c8c8c").attr("stroke-width", 1);
  p.series.forEach((s, i) => {
    const yy = L.firstY + i * 16.7;
    if (s.line) {
      lg.append("line").attr("x1", L.symX - 15).attr("x2", L.symX + 17).attr("y1", yy).attr("y2", yy)
        .attr("stroke", "#000").attr("stroke-width", 2.6).attr("stroke-dasharray", s.line === "dash" ? "7,5" : null);
    } else {
      const st = s.st;
      lg.append("path").attr("transform", `translate(${L.symX},${yy})`).attr("d", shapePath(st.shape, st.r * 0.72))
        .attr("fill", st.fill === "none" ? "none" : "#8a8a8a").attr("stroke", st.stroke).attr("stroke-width", 1.1);
    }
    lg.append("text").attr("x", L.textX).attr("y", yy + 4.5).style("font-size", "12.5px").style("font-weight", "bold")
      .attr("fill", "#1a1a1a").text(s.label);
  });
});
</script>
</body></html>
